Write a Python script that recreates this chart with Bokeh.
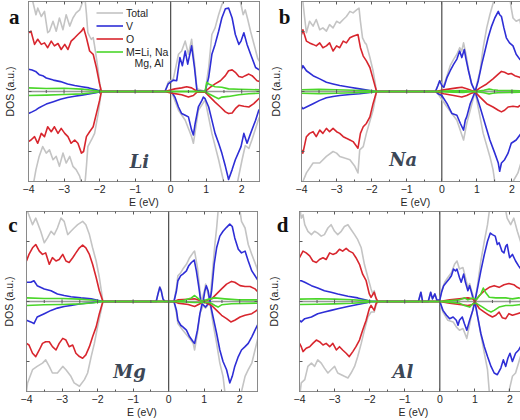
from bokeh.plotting import figure
from bokeh.layouts import column, row
from bokeh.models import (Range1d, FixedTicker, LinearAxis, Span, Label, Legend, LegendItem)
from bokeh.embed import file_html
from bokeh.resources import INLINE

# ---------------- axes / ticks ----------------
X_TICKS = [-4, -3, -2, -1, 0, 1, 2]
X_MINOR = [-3.5, -2.5, -1.5, -0.5, 0.5, 1.5, 2.5]
Y_TICKS = [-1, 0, 1]
X_RANGE = (-4, 2.5)
Y_RANGE = (-1.5, 1.5)

SPECIES = ["Total", "V", "O", "M=Li, Na"]
LEGEND_SECOND_LINE = "Mg, Al"
METALS = ["Li", "Na", "Mg", "Al"]
LETTERS = ["a", "b", "c", "d"]

# ---------------- panel a (Li) ----------------
A_TOT_UP_X = [-4.0, -3.88, -3.79, -3.74, -3.64, -3.55, -3.46, -3.41, -3.31, -3.22, -3.13, -3.03, -2.94, -2.84, -2.75, -2.66, -2.56, -2.47, -2.42, -2.37, -2.33, -2.28, -2.23, -2.18, -2.14, -2.09, -2.04, -2.0, -1.95,
              -0.16, -0.07, 0.075, 0.22, 0.31, 0.41, 0.5, 0.59, 0.67, 0.74, 0.97, 1.07, 1.16, 1.25, 1.35, 1.44, 1.49, 1.6, 1.85, 1.92, 1.98, 2.04, 2.10, 2.17, 2.25, 2.34, 2.45, 2.56]
A_TOT_UP_Y = [1.6, 1.5, 1.28, 1.39, 1.25, 1.335, 0.98, 1.005, 1.17, 1.005, 1.225, 1.03, 1.28, 1.09, 1.225, 1.31, 1.36, 1.5, 1.6, 1.3, 0.98, 0.92, 0.87, 0.9, 0.76, 0.56, 0.35, 0.15, 0,
              0, 0.154, 0.21, 0.62, 0.675, 0.84, 0.62, 0.87, 0.48, 0.044, 0, 0.40, 0.95, 1.06, 1.28, 1.445, 1.5, 1.6, 1.6, 1.6, 1.45, 1.28, 1.36, 1.2, 1.0, 0.8, 0.55, 0.45]
A_TOT_DN_X = [-4.0, -3.88, -3.79, -3.70, -3.60, -3.50, -3.41, -3.31, -3.22, -3.13, -3.03, -2.94, -2.84, -2.75, -2.66, -2.56, -2.47, -2.42, -2.37, -2.33, -2.23, -2.14, -2.04, -1.95,
              -0.16, 0.03, 0.22, 0.41, 0.59, 0.64, 0.78, 0.97, 1.16, 1.35, 1.49, 1.6, 1.85, 2.01, 2.10, 2.20, 2.29, 2.48, 2.56]
A_TOT_DN_Y = [-1.6, -1.6, -1.302, -1.082, -0.918, -1.027, -0.973, -1.137, -1.082, -1.247, -1.027, -1.192, -1.082, -1.247, -1.302, -1.412, -1.6, -1.6, -1.247, -0.918, -0.808, -0.698, -0.368, 0,
              0, -0.01, -0.313, -0.478, -0.753, -0.863, -0.313, -0.14, -0.698, -1.137, -1.5, -1.6, -1.6, -1.137, -0.9, -0.95, -0.8, -0.45, -0.38]
A_V_UP_X = [-4.0, -3.9, -3.8, -3.7, -3.6, -3.5, -3.3, -3.1, -2.9, -2.7, -2.5, -2.3, -2.1, -1.95,
            -0.16, -0.07, 0.075, 0.17, 0.26, 0.33, 0.41, 0.48, 0.59, 0.67, 0.74, 0.97, 1.07, 1.16, 1.25, 1.35, 1.44, 1.54, 1.63, 1.73, 1.82, 1.92, 1.98, 2.06, 2.15, 2.25, 2.39, 2.53]
A_V_UP_Y = [0.37, 0.357, 0.335, 0.28, 0.264, 0.225, 0.19, 0.165, 0.126, 0.10, 0.08, 0.06, 0.027, 0,
            0, 0.126, 0.19, 0.18, 0.565, 0.43, 0.675, 0.456, 0.76, 0.40, 0.016, 0, 0.236, 0.62, 0.785, 1.005, 1.225, 1.38, 1.39, 1.225, 0.95, 0.785, 0.84, 0.98, 0.785, 0.62, 0.40, 0.346]
A_V_DN_X = [-4.0, -3.9, -3.8, -3.7, -3.6, -3.5, -3.3, -3.1, -2.9, -2.7, -2.5, -2.3, -2.1, -1.95,
            -0.16, 0.03, 0.12, 0.22, 0.31, 0.41, 0.5, 0.59, 0.64, 0.69, 0.78, 0.88, 0.92, 0.97, 1.07, 1.16, 1.25, 1.35, 1.44, 1.54, 1.63, 1.73, 1.82, 1.98, 2.06, 2.15, 2.25, 2.39, 2.48, 2.56]
A_V_DN_Y = [-0.368, -0.34, -0.31, -0.27, -0.24, -0.21, -0.17, -0.13, -0.10, -0.08, -0.06, -0.04, -0.02, 0,
            0, -0.01, -0.093, -0.258, -0.368, -0.396, -0.423, -0.643, -0.725, -0.533, -0.258, -0.148, -0.093, -0.12, -0.258, -0.478, -0.698, -0.863, -1.027, -1.247, -1.467, -1.302, -1.137, -0.918, -0.698, -0.863, -0.698, -0.478, -0.313, -0.258]
A_O_UP_X = [-4.0, -3.93, -3.83, -3.74, -3.64, -3.55, -3.46, -3.36, -3.27, -3.17, -3.08, -2.98, -2.89, -2.80, -2.70, -2.61, -2.51, -2.45, -2.37, -2.28, -2.18, -2.09, -2.0, -1.95,
            -0.16, 0.12, 0.31, 0.45, 0.59, 0.74, 0.97, 1.11, 1.25, 1.40, 1.54, 1.63, 1.73, 1.82, 1.92, 2.01, 2.10, 2.20, 2.29, 2.43, 2.56]
A_O_UP_Y = [0.98, 1.005, 0.785, 0.87, 0.785, 0.81, 0.73, 0.84, 0.76, 0.80, 0.70, 0.785, 0.70, 0.84, 0.895, 0.95, 1.005, 1.06, 0.895, 0.675, 0.62, 0.40, 0.126, 0,
            0, 0.044, 0.06, 0.08, 0.06, 0.005, 0, 0.07, 0.126, 0.18, 0.264, 0.346, 0.36, 0.32, 0.25, 0.236, 0.264, 0.29, 0.264, 0.18, 0.154]
A_O_DN_X = [-4.0, -3.93, -3.83, -3.74, -3.64, -3.55, -3.46, -3.36, -3.27, -3.17, -3.08, -2.98, -2.89, -2.80, -2.70, -2.61, -2.51, -2.45, -2.37, -2.28, -2.18, -2.09, -2.0, -1.95,
            -0.16, 0.03, 0.31, 0.5, 0.64, 0.74, 0.97, 1.11, 1.25, 1.40, 1.54, 1.63, 1.73, 1.82, 1.92, 2.06, 2.20, 2.34, 2.48, 2.56]
A_O_DN_Y = [-0.835, -0.808, -0.753, -0.863, -0.698, -0.753, -0.588, -0.67, -0.588, -0.698, -0.615, -0.698, -0.753, -0.863, -0.808, -0.863, -1.027, -1.0, -0.753, -0.67, -0.588, -0.368, -0.148, 0,
            0, -0.027, -0.055, -0.093, -0.066, -0.01, -0.01, -0.093, -0.176, -0.258, -0.34, -0.368, -0.357, -0.286, -0.23, -0.247, -0.258, -0.203, -0.12, -0.093]
A_M_UP_X = [-4.0, -3.5, -3.0, -2.5, -2.2, -1.95, 0.97, 1.02, 1.07, 1.25, 1.44, 1.63, 1.92, 2.20, 2.56]
A_M_UP_Y = [0.06, 0.05, 0.055, 0.04, 0.02, 0, 0, 0.154, 0.126, 0.08, 0.07, 0.044, 0.038, 0.033, 0.027]
A_M_DN_X = [-4.0, -3.5, -3.0, -2.5, -2.2, -1.95, 0.97, 1.07, 1.25, 1.35, 1.44, 1.63, 1.92, 2.20, 2.56]
A_M_DN_Y = [-0.066, -0.06, -0.05, -0.04, -0.02, 0, 0, -0.038, -0.093, -0.12, -0.093, -0.082, -0.055, -0.038, -0.027]

# ---------------- panel b (Na) ----------------
B_TOT_UP_X = [-4.0, -3.96, -3.91, -3.86, -3.77, -3.67, -3.58, -3.48, -3.39, -3.29, -3.20, -3.10, -3.0, -2.91, -2.81, -2.72, -2.62, -2.53, -2.43, -2.36, -2.32, -2.26, -2.19, -2.15, -2.05, -1.96, -1.86,
              -0.18, -0.06, 0.06, 0.24, 0.34, 0.43, 0.51, 0.57, 0.62, 0.69, 0.76, 0.85, 0.95, 1.09, 1.18, 1.28, 1.37, 1.45, 1.48, 1.6, 1.93, 1.98, 2.03, 2.12, 2.22, 2.26, 2.31, 2.40, 2.5]
B_TOT_UP_Y = [1.6, 1.5, 1.225, 0.98, 1.17, 1.09, 1.2, 1.03, 1.06, 1.005, 1.115, 1.06, 1.17, 1.14, 1.2, 1.25, 1.335, 1.31, 1.36, 1.39, 1.17, 0.895, 0.81, 0.785, 0.566, 0.346, 0,
              0, 0.18, 0.10, 0.43, 0.54, 0.62, 0.73, 0.675, 0.81, 0.62, 0.37, 0.126, 0, 0.346, 0.73, 1.06, 1.28, 1.445, 1.5, 1.6, 1.6, 1.39, 1.225, 1.17, 1.2, 1.1, 0.8, 0.7, 0.45]
B_TOT_DN_X = [-4.0, -3.96, -3.86, -3.67, -3.48, -3.29, -3.10, -3.0, -2.91, -2.77, -2.62, -2.48, -2.39, -2.34, -2.24, -2.15, -1.96, -1.86,
              -0.18, -0.11, 0.15, 0.43, 0.62, 0.71, 0.95, 1.18, 1.37, 1.46, 1.51, 1.6, 1.98, 2.03, 2.17, 2.31, 2.5]
B_TOT_DN_Y = [-1.6, -1.5, -1.357, -1.192, -1.192, -1.082, -1.0, -1.027, -1.082, -1.11, -1.137, -1.247, -1.357, -0.973, -0.918, -0.698, -0.313, 0,
              0, -0.038, -0.258, -0.478, -0.808, -0.533, 0, -0.698, -1.082, -1.302, -1.5, -1.6, -1.6, -1.5, -1.357, -1.082, -0.973]
B_V_UP_X = [-4.0, -3.96, -3.86, -3.67, -3.48, -3.29, -3.10, -2.91, -2.62, -2.34, -2.05, -1.86,
            -0.18, -0.11, -0.06, 0, 0.06, 0.15, 0.24, 0.34, 0.43, 0.51, 0.57, 0.64, 0.69, 0.76, 0.85, 0.95, 1.04, 1.14, 1.23, 1.32, 1.42, 1.51, 1.61, 1.65, 1.70, 1.77, 1.84, 1.93, 2.03, 2.12, 2.22, 2.36, 2.5]
B_V_UP_Y = [0.37, 0.43, 0.346, 0.264, 0.21, 0.154, 0.126, 0.10, 0.07, 0.044, 0.016, 0,
            0, 0.10, 0.18, 0.10, 0.07, 0.236, 0.346, 0.456, 0.54, 0.675, 0.565, 0.70, 0.54, 0.346, 0.126, 0, 0.18, 0.456, 0.675, 0.895, 1.09, 1.225, 1.335, 1.28, 1.25, 1.06, 0.895, 0.81, 0.76, 0.62, 0.54, 0.456, 0.346]
B_V_DN_X = [-4.0, -3.96, -3.86, -3.67, -3.48, -3.29, -3.10, -2.91, -2.62, -2.34, -2.05, -1.86,
            -0.18, -0.11, 0, 0.15, 0.29, 0.43, 0.53, 0.62, 0.67, 0.71, 0.81, 0.95, 1.09, 1.23, 1.37, 1.51, 1.61, 1.65, 1.70, 1.79, 1.89, 1.98, 2.12, 2.26, 2.40, 2.5]
B_V_DN_Y = [-0.258, -0.286, -0.258, -0.203, -0.148, -0.104, -0.082, -0.066, -0.05, -0.038, -0.016, 0,
            0, -0.038, -0.066, -0.203, -0.368, -0.396, -0.533, -0.643, -0.478, -0.423, -0.203, 0, -0.258, -0.533, -0.808, -1.027, -1.192, -1.33, -1.192, -1.137, -1.027, -0.863, -0.808, -0.698, -0.533, -0.368]
B_O_UP_X = [-4.0, -3.96, -3.86, -3.77, -3.67, -3.58, -3.48, -3.39, -3.29, -3.20, -3.10, -3.0, -2.91, -2.81, -2.72, -2.62, -2.53, -2.39, -2.32, -2.24, -2.15, -2.05, -1.96, -1.86,
            -0.18, 0.06, 0.24, 0.43, 0.57, 0.71, 0.85, 0.95, 1.09, 1.28, 1.46, 1.61, 1.70, 1.79, 1.89, 1.98, 2.08, 2.22, 2.36, 2.5]
B_O_UP_Y = [0.95, 1.03, 0.84, 0.81, 0.785, 0.76, 0.81, 0.73, 0.76, 0.81, 0.675, 0.76, 0.73, 0.84, 0.81, 0.895, 0.92, 0.95, 0.73, 0.59, 0.51, 0.40, 0.21, 0,
            0, 0.027, 0.044, 0.06, 0.07, 0.044, 0.016, 0, 0.06, 0.126, 0.21, 0.29, 0.335, 0.32, 0.29, 0.30, 0.264, 0.236, 0.18, 0.154]
B_O_DN_X = [-4.0, -3.96, -3.86, -3.77, -3.67, -3.58, -3.48, -3.39, -3.29, -3.20, -3.10, -3.0, -2.91, -2.81, -2.72, -2.62, -2.53, -2.39, -2.32, -2.24, -2.15, -2.05, -1.96, -1.86,
            -0.18, 0.06, 0.34, 0.57, 0.71, 0.85, 0.95, 1.09, 1.28, 1.46, 1.61, 1.70, 1.79, 1.89, 2.03, 2.17, 2.31, 2.45, 2.5]
B_O_DN_Y = [-0.973, -1.027, -0.753, -0.698, -0.67, -0.753, -0.643, -0.698, -0.615, -0.67, -0.615, -0.67, -0.698, -0.753, -0.78, -0.808, -0.835, -0.945, -0.698, -0.588, -0.533, -0.423, -0.203, 0,
            0, -0.038, -0.066, -0.093, -0.066, -0.027, -0.01, -0.093, -0.203, -0.258, -0.313, -0.34, -0.313, -0.258, -0.247, -0.258, -0.203, -0.176, -0.148]
B_M_UP_X = [-4.0, -3.5, -3.0, -2.5, -2.0, -1.86, -0.18, 0.3, 0.6, 0.95, 1.2, 1.35, 1.45, 1.6, 2.0, 2.5]
B_M_UP_Y = [0.03, 0.035, 0.03, 0.02, 0.01, 0, 0, 0.01, 0.015, 0, 0.02, 0.04, 0.03, 0.02, 0.015, 0.01]
B_M_DN_X = [-4.0, -3.5, -3.0, -2.5, -2.0, -1.86, -0.18, 0.3, 0.6, 0.95, 1.2, 1.35, 1.45, 1.6, 2.0, 2.5]
B_M_DN_Y = [-0.03, -0.035, -0.03, -0.02, -0.01, 0, 0, -0.01, -0.015, 0, -0.02, -0.04, -0.03, -0.02, -0.015, -0.01]

# ---------------- panel c (Mg) ----------------
C_TOT_UP_X = [-4.0, -3.97, -3.83, -3.74, -3.60, -3.50, -3.41, -3.31, -3.22, -3.13, -3.03, -2.94, -2.84, -2.75, -2.66, -2.56, -2.42, -2.33, -2.23, -2.14, -2.04, -1.95, -1.85,
              -0.35, -0.30, -0.25, -0.21, -0.16, -0.11, 0.15, 0.22, 0.26, 0.34, 0.40, 0.50, 0.59, 0.69, 0.73, 0.81, 0.88, 0.92, 1.02, 1.04, 1.16, 1.22, 1.30, 1.35, 1.39, 1.5, 1.95, 2.01, 2.05, 2.15, 2.24, 2.34, 2.48, 2.52]
C_TOT_UP_Y = [1.6, 1.5, 1.28, 1.39, 1.17, 0.98, 1.06, 1.17, 1.115, 1.225, 1.39, 1.335, 1.115, 1.17, 1.225, 1.28, 1.335, 1.28, 1.115, 0.895, 0.675, 0.40, 0,
              0, 0.126, 0.247, 0.19, 0.044, 0, 0, 0.236, 0.43, 0.48, 0.54, 0.62, 0.73, 0.815, 0.84, 0.565, 0.18, 0, 0.21, 0.29, 0, 0.40, 0.95, 1.225, 1.5, 1.6, 1.6, 1.5, 1.335, 1.225, 0.95, 0.785, 0.565, 0.456]
C_TOT_DN_X = [-4.0, -3.97, -3.83, -3.70, -3.55, -3.46, -3.36, -3.27, -3.13, -2.98, -2.89, -2.75, -2.66, -2.51, -2.37, -2.28, -2.18, -2.09, -2.0, -1.90, -1.85,
              0.15, 0.22, 0.26, 0.40, 0.55, 0.69, 0.73, 0.81, 0.88, 0.97, 1.04, 1.11, 1.16, 1.25, 1.35, 1.44, 1.53, 1.58, 1.7, 1.95, 2.05, 2.15, 2.24, 2.34, 2.43, 2.52]
C_TOT_DN_Y = [-1.5, -1.357, -1.137, -1.082, -1.027, -0.973, -1.082, -1.192, -1.192, -1.082, -1.137, -1.247, -1.357, -1.412, -1.302, -1.192, -0.918, -0.698, -0.423, -0.148, 0,
              0, -0.203, -0.368, -0.478, -0.588, -0.698, -0.808, -0.533, -0.203, -0.066, -0.11, -0.06, -0.02, -0.368, -0.698, -1.027, -1.247, -1.5, -1.6, -1.6, -1.5, -1.247, -1.137, -1.027, -0.808, -0.588]
C_V_UP_X = [-4.0, -3.88, -3.79, -3.70, -3.50, -3.31, -3.13, -2.94, -2.75, -2.47, -2.18, -1.85,
            -0.35, -0.30, -0.25, -0.21, -0.16, -0.11, 0.15, 0.22, 0.26, 0.34, 0.40, 0.50, 0.56, 0.64, 0.72, 0.78, 0.85, 0.90, 0.97, 1.02, 1.06, 1.11, 1.16, 1.21, 1.28, 1.35, 1.44, 1.53, 1.63, 1.72, 1.79, 1.86, 1.96, 2.05, 2.15, 2.24, 2.34, 2.43, 2.52]
C_V_UP_Y = [0.32, 0.32, 0.346, 0.264, 0.21, 0.18, 0.126, 0.10, 0.08, 0.06, 0.044, 0,
            0, 0.126, 0.236, 0.18, 0.044, 0, 0, 0.18, 0.346, 0.43, 0.456, 0.51, 0.59, 0.65, 0.69, 0.51, 0.236, 0.016, 0, 0.18, 0.264, 0.18, 0, 0.18, 0.62, 0.895, 1.09, 1.17, 1.236, 1.29, 1.25, 1.06, 0.87, 0.81, 0.84, 0.675, 0.51, 0.43, 0.346]
C_V_DN_X = [-4.0, -3.88, -3.79, -3.70, -3.50, -3.31, -3.13, -2.94, -2.75, -2.47, -2.18, -1.85,
            0.15, 0.22, 0.26, 0.34, 0.40, 0.50, 0.59, 0.69, 0.73, 0.81, 0.88, 0.94, 1.04, 1.11, 1.16, 1.25, 1.35, 1.44, 1.53, 1.63, 1.72, 1.79, 1.86, 1.96, 2.05, 2.15, 2.24, 2.34, 2.43, 2.52]
C_V_DN_Y = [-0.313, -0.34, -0.368, -0.258, -0.203, -0.148, -0.11, -0.082, -0.066, -0.038, -0.022, 0,
            0, -0.148, -0.313, -0.396, -0.423, -0.478, -0.588, -0.67, -0.698, -0.478, -0.203, -0.038, -0.093, -0.038, 0, -0.258, -0.533, -0.808, -1.0, -1.137, -1.357, -1.247, -1.082, -0.918, -0.808, -0.753, -0.698, -0.588, -0.478, -0.368]
C_O_UP_X = [-4.0, -3.93, -3.83, -3.74, -3.64, -3.55, -3.46, -3.36, -3.27, -3.17, -3.08, -2.98, -2.89, -2.80, -2.70, -2.61, -2.51, -2.42, -2.33, -2.23, -2.14, -2.04, -1.95, -1.85,
            0.15, 0.26, 0.55, 0.73, 0.88, 0.97, 1.21, 1.35, 1.49, 1.63, 1.77, 1.86, 2.01, 2.15, 2.29, 2.43, 2.52]
C_O_UP_Y = [0.675, 0.785, 0.895, 0.95, 0.84, 0.785, 0.81, 0.62, 0.73, 0.675, 0.70, 0.785, 0.675, 0.65, 0.73, 0.81, 0.895, 0.94, 0.895, 0.785, 0.62, 0.40, 0.18, 0,
            0, 0.027, 0.038, 0.044, 0.016, 0, 0.044, 0.126, 0.21, 0.29, 0.335, 0.32, 0.264, 0.25, 0.25, 0.21, 0.154]
C_O_DN_X = [-4.0, -3.93, -3.83, -3.74, -3.64, -3.55, -3.46, -3.36, -3.27, -3.17, -3.08, -2.98, -2.89, -2.80, -2.70, -2.61, -2.51, -2.42, -2.33, -2.23, -2.14, -2.04, -1.95, -1.85,
            0.15, 0.26, 0.55, 0.73, 0.88, 0.97, 1.21, 1.35, 1.49, 1.63, 1.75, 1.86, 2.01, 2.15, 2.34, 2.48, 2.52]
C_O_DN_Y = [-0.698, -0.725, -0.863, -0.918, -0.808, -0.698, -0.67, -0.67, -0.753, -0.808, -0.698, -0.615, -0.643, -0.753, -0.725, -0.863, -0.918, -0.945, -0.89, -0.753, -0.588, -0.423, -0.203, 0,
            0, -0.027, -0.05, -0.082, -0.038, 0, -0.066, -0.148, -0.23, -0.286, -0.34, -0.313, -0.258, -0.23, -0.203, -0.148, -0.12]
C_M_UP_X = [-4.0, -3.5, -3.0, -2.5, -2.1, -1.85, 0.15, 0.40, 0.64, 0.73, 0.81, 0.92, 1.06, 1.16, 1.30, 1.58, 1.96, 2.52]
C_M_UP_Y = [0.06, 0.05, 0.05, 0.04, 0.02, 0, 0, 0.016, 0.06, 0.10, 0.06, 0.005, 0.027, 0.044, 0.06, 0.044, 0.027, 0.027]
C_M_DN_X = [-4.0, -3.5, -3.0, -2.5, -2.1, -1.85, 0.15, 0.73, 1.16, 1.30, 1.39, 1.49, 1.77, 2.52]
C_M_DN_Y = [-0.066, -0.055, -0.05, -0.04, -0.02, 0, 0, -0.016, -0.016, -0.066, -0.093, -0.055, -0.038, -0.027]

# ---------------- panel d (Al) ----------------
D_TOT_UP_X = [-4.0, -3.95, -3.90, -3.85, -3.76, -3.66, -3.57, -3.48, -3.38, -3.29, -3.19, -3.10, -3.0, -2.91, -2.81, -2.72, -2.62, -2.53, -2.43, -2.34, -2.24, -2.15, -2.05, -1.96, -1.91, -1.87, -1.82, -1.77,
              -0.61, -0.54, -0.49, -0.33, -0.26, -0.21, -0.14, -0.08, 0, 0.05, 0.14, 0.23, 0.33, 0.42, 0.49, 0.56, 0.66, 0.73, 0.80, 0.85, 0.89, 1.0, 1.08, 1.17, 1.27, 1.36, 1.41, 1.5, 1.85, 1.92, 2.02, 2.11, 2.21, 2.30, 2.39, 2.49, 2.54]
D_TOT_UP_Y = [1.6, 1.39, 1.445, 1.28, 1.17, 1.115, 1.17, 1.14, 1.09, 1.115, 1.225, 1.28, 1.17, 1.115, 1.17, 1.25, 1.28, 1.2, 1.115, 1.03, 0.895, 0.62, 0.40, 0.21, 0.126, 0.18, 0.044, 0,
              0, 0.154, 0, 0, 0.154, 0.044, 0.126, 0.016, 0.027, 0.18, 0.32, 0.40, 0.48, 0.62, 0.675, 0.54, 0.565, 0.40, 0.236, 0.30, 0.21, 0, 0.29, 0.675, 1.005, 1.28, 1.5, 1.6, 1.6, 1.39, 1.28, 1.39, 1.17, 1.005, 0.73, 0.65, 0.62]
D_TOT_DN_X = [-4.0, -3.95, -3.85, -3.76, -3.66, -3.57, -3.48, -3.38, -3.29, -3.19, -3.10, -3.0, -2.91, -2.81, -2.72, -2.62, -2.53, -2.43, -2.34, -2.24, -2.15, -2.05, -1.96, -1.87, -1.82, -1.77,
              0, 0.09, 0.23, 0.38, 0.47, 0.56, 0.66, 0.77, 0.85, 0.89, 1.0, 1.13, 1.27, 1.36, 1.41, 1.5, 1.88, 1.97, 2.07, 2.16, 2.30, 2.44, 2.54]
D_TOT_DN_Y = [-1.6, -1.357, -1.302, -1.082, -1.027, -1.082, -0.973, -1.027, -1.11, -1.192, -1.137, -1.082, -1.192, -1.22, -1.247, -1.275, -1.192, -1.082, -0.918, -0.698, -0.478, -0.258, -0.176, -0.176, -0.066, 0,
              0, -0.176, -0.313, -0.34, -0.423, -0.478, -0.45, -0.615, -0.38, -0.258, 0, -0.423, -0.863, -1.137, -1.5, -1.6, -1.6, -1.5, -1.247, -1.192, -0.918, -0.698, -0.588]
D_V_UP_X = [-4.0, -3.95, -3.85, -3.66, -3.48, -3.29, -3.10, -2.91, -2.62, -2.34, -2.05, -1.96,
            -0.61, -0.54, -0.49, -0.33, -0.26, -0.21, -0.14, -0.08, 0, 0.05, 0.11, 0.19, 0.26, 0.33, 0.39, 0.45, 0.49, 0.56, 0.61, 0.68, 0.73, 0.80, 0.85, 0.89, 0.94, 1.0, 1.08, 1.17, 1.27, 1.36, 1.44, 1.50, 1.58, 1.64, 1.69, 1.77, 1.83, 1.88, 1.92, 1.99, 2.07, 2.16, 2.25, 2.35, 2.44, 2.54]
D_V_UP_Y = [0.346, 0.346, 0.32, 0.264, 0.225, 0.18, 0.154, 0.126, 0.088, 0.06, 0.016, 0,
            0, 0.154, 0, 0, 0.154, 0.044, 0.126, 0.016, 0.027, 0.154, 0.264, 0.32, 0.37, 0.43, 0.54, 0.51, 0.54, 0.40, 0.32, 0.456, 0.32, 0.18, 0.264, 0.18, 0.07, 0, 0.236, 0.51, 0.785, 1.005, 1.14, 1.115, 1.09, 0.95, 0.98, 0.84, 0.81, 0.92, 0.95, 0.73, 0.785, 0.675, 0.59, 0.51, 0.456, 0.48]
D_V_DN_X = [-4.0, -3.95, -3.85, -3.66, -3.48, -3.29, -3.10, -2.91, -2.62, -2.34, -2.05, -1.96,
            0, 0.09, 0.19, 0.28, 0.38, 0.47, 0.52, 0.56, 0.64, 0.70, 0.77, 0.85, 0.94, 1.0, 1.08, 1.17, 1.27, 1.36, 1.46, 1.55, 1.64, 1.74, 1.81, 1.88, 1.94, 2.0, 2.07, 2.16, 2.25, 2.35, 2.42, 2.49, 2.54]
D_V_DN_Y = [-0.313, -0.34, -0.286, -0.258, -0.203, -0.176, -0.148, -0.12, -0.082, -0.05, -0.016, 0,
            0, -0.148, -0.23, -0.286, -0.258, -0.313, -0.396, -0.313, -0.258, -0.368, -0.478, -0.313, -0.148, 0, -0.258, -0.533, -0.753, -0.918, -1.082, -1.192, -1.22, -1.11, -0.973, -1.082, -0.945, -0.863, -1.0, -0.863, -0.808, -0.698, -0.533, -0.45, -0.423]
D_O_UP_X = [-4.0, -3.95, -3.90, -3.81, -3.71, -3.62, -3.52, -3.43, -3.33, -3.24, -3.14, -3.05, -2.95, -2.86, -2.77, -2.67, -2.58, -2.48, -2.39, -2.29, -2.20, -2.10, -2.01, -1.96, -1.87, -1.82, -1.77,
            0, 0.28, 0.56, 0.80, 0.94, 1.0, 1.13, 1.27, 1.41, 1.55, 1.69, 1.83, 1.97, 2.11, 2.21, 2.30, 2.44, 2.54]
D_O_UP_Y = [0.73, 0.785, 0.84, 0.81, 0.76, 0.675, 0.65, 0.70, 0.73, 0.70, 0.81, 0.785, 0.81, 0.87, 0.84, 0.885, 0.84, 0.81, 0.73, 0.62, 0.456, 0.346, 0.126, 0.07, 0.154, 0.06, 0,
            0, 0.027, 0.044, 0.06, 0.044, 0, 0.10, 0.18, 0.236, 0.264, 0.236, 0.28, 0.30, 0.28, 0.236, 0.21, 0.18, 0.21]
D_O_DN_X = [-4.0, -3.95, -3.90, -3.81, -3.71, -3.62, -3.52, -3.43, -3.33, -3.24, -3.14, -3.05, -2.95, -2.86, -2.77, -2.67, -2.58, -2.48, -2.39, -2.29, -2.20, -2.10, -2.01, -1.96, -1.87, -1.82, -1.77,
            0, 0.28, 0.56, 0.80, 0.94, 1.0, 1.13, 1.27, 1.41, 1.50, 1.60, 1.69, 1.78, 1.88, 1.97, 2.07, 2.21, 2.35, 2.54]
D_O_DN_Y = [-0.698, -0.753, -0.835, -0.78, -0.753, -0.698, -0.643, -0.67, -0.725, -0.698, -0.753, -0.698, -0.808, -0.753, -0.808, -0.863, -0.918, -0.835, -0.753, -0.643, -0.478, -0.313, -0.12, -0.066, -0.148, -0.038, 0,
            0, -0.027, -0.05, -0.066, -0.05, 0, -0.12, -0.176, -0.23, -0.258, -0.23, -0.176, -0.27, -0.286, -0.203, -0.23, -0.203, -0.176, -0.148]
D_M_UP_X = [-4.0, -3.5, -3.0, -2.5, -2.1, -1.9, 0, 0.56, 0.70, 0.80, 0.94, 1.03, 1.17, 1.24, 1.30, 1.41, 1.60, 1.88, 2.07, 2.25, 2.54]
D_M_UP_Y = [0.04, 0.045, 0.04, 0.03, 0.015, 0, 0, 0.027, 0.06, 0.027, 0.06, 0.027, 0.126, 0.225, 0.154, 0.07, 0.06, 0.06, 0.044, 0.06, 0.044]
D_M_DN_X = [-4.0, -3.5, -3.0, -2.5, -2.1, -1.9, 0, 0.56, 0.70, 0.85, 0.94, 1.03, 1.22, 1.36, 1.46, 1.55, 1.69, 1.88, 2.07, 2.25, 2.54]
D_M_DN_Y = [-0.05, -0.045, -0.04, -0.03, -0.015, 0, 0, -0.027, -0.066, -0.093, -0.038, -0.027, -0.093, -0.148, -0.176, -0.148, -0.093, -0.066, -0.066, -0.055, -0.038]

# ---------------- styling ----------------
COLORS = ["#c4c4c4", "#2e2ed6", "#d8262e", "#4bd62a"]   # Total, V, O, M
FRAME = "#8a8a8a"
TICK = "#5a5a5a"
TXT = "#262626"
SANS = "Liberation Sans"
FS = "10.5px"
FRAME_H = 180
LEG_ROW = 13

PANEL_DATA = {
    "a": [(A_TOT_UP_X, A_TOT_UP_Y, A_TOT_DN_X, A_TOT_DN_Y), (A_V_UP_X, A_V_UP_Y, A_V_DN_X, A_V_DN_Y),
          (A_O_UP_X, A_O_UP_Y, A_O_DN_X, A_O_DN_Y), (A_M_UP_X, A_M_UP_Y, A_M_DN_X, A_M_DN_Y)],
    "b": [(B_TOT_UP_X, B_TOT_UP_Y, B_TOT_DN_X, B_TOT_DN_Y), (B_V_UP_X, B_V_UP_Y, B_V_DN_X, B_V_DN_Y),
          (B_O_UP_X, B_O_UP_Y, B_O_DN_X, B_O_DN_Y), (B_M_UP_X, B_M_UP_Y, B_M_DN_X, B_M_DN_Y)],
    "c": [(C_TOT_UP_X, C_TOT_UP_Y, C_TOT_DN_X, C_TOT_DN_Y), (C_V_UP_X, C_V_UP_Y, C_V_DN_X, C_V_DN_Y),
          (C_O_UP_X, C_O_UP_Y, C_O_DN_X, C_O_DN_Y), (C_M_UP_X, C_M_UP_Y, C_M_DN_X, C_M_DN_Y)],
    "d": [(D_TOT_UP_X, D_TOT_UP_Y, D_TOT_DN_X, D_TOT_DN_Y), (D_V_UP_X, D_V_UP_Y, D_V_DN_X, D_V_DN_Y),
          (D_O_UP_X, D_O_UP_Y, D_O_DN_X, D_O_DN_Y), (D_M_UP_X, D_M_UP_Y, D_M_DN_X, D_M_DN_Y)],
}
# label positions (data units)
METAL_POS = {"a": (-0.88, -1.17), "b": (-1.1, -1.14), "c": (-1.1, -1.17), "d": (-1.05, -1.17)}
LETTER_Y = {"a": 1.235, "b": 1.25, "c": 1.27, "d": 1.27}


def style_axis(ax, ticks, minor, labels):
    ax.ticker = FixedTicker(ticks=ticks, minor_ticks=minor)
    ax.axis_line_color = FRAME
    ax.major_tick_line_color = TICK
    ax.major_tick_in = 3
    ax.major_tick_out = 0
    ax.minor_tick_in = 2
    ax.minor_tick_out = 0
    ax.minor_tick_line_color = TICK if minor else None
    if labels:
        ax.major_label_text_font = SANS
        ax.major_label_text_font_size = FS
        ax.major_label_text_color = TXT
        ax.major_label_standoff = 3
    else:
        ax.major_label_overrides = {t: "" for t in ticks}
        ax.major_label_text_font_size = "0px"
        ax.major_label_text_color = None
        ax.major_label_standoff = 0


def make_panel(key, metal, frame_w, lb, rb, letter_standoff, dos_standoff, legend=False):
    p = figure(frame_width=frame_w, frame_height=FRAME_H,
               x_range=Range1d(*X_RANGE), y_range=Range1d(*Y_RANGE),
               output_backend="svg", toolbar_location=None,
               min_border_left=lb, min_border_right=rb, min_border_top=1, min_border_bottom=29)
    p.grid.visible = False
    p.outline_line_color = FRAME
    p.border_fill_color = "white"

    xa = p.xaxis[0]
    style_axis(xa, X_TICKS, X_MINOR, True)
    xa.axis_label = "E (eV)"
    xa.axis_label_text_font = SANS
    xa.axis_label_text_font_size = FS
    xa.axis_label_text_font_style = "normal"
    xa.axis_label_text_color = TXT
    xa.axis_label_standoff = 0

    # left axis: y ticks drawn as minor ticks, panel letter as the only (unmarked) major tick label
    ya = p.yaxis[0]
    ly = LETTER_Y[key]
    ya.ticker = FixedTicker(ticks=[ly], minor_ticks=Y_TICKS)
    ya.axis_line_color = FRAME
    ya.major_tick_line_color = None
    ya.major_tick_in = 0
    ya.major_tick_out = 0
    ya.minor_tick_line_color = TICK
    ya.minor_tick_in = 3
    ya.minor_tick_out = 0
    ya.major_label_overrides = {ly: key}
    ya.major_label_text_font = "Liberation Serif"
    ya.major_label_text_font_style = "bold"
    ya.major_label_text_font_size = "21px"
    ya.major_label_text_color = "#111111"
    ya.major_label_standoff = letter_standoff
    ya.axis_label = "DOS (a.u.)"
    ya.axis_label_text_font = SANS
    ya.axis_label_text_font_size = FS
    ya.axis_label_text_font_style = "normal"
    ya.axis_label_text_color = TXT
    ya.axis_label_standoff = dos_standoff

    top = LinearAxis()
    style_axis(top, X_TICKS, X_MINOR, False)
    p.add_layout(top, "above")
    right = LinearAxis()
    style_axis(right, Y_TICKS, [], False)
    p.add_layout(right, "right")

    p.add_layout(Span(location=0, dimension="width", line_color="#9a9a9a", line_width=1.5, level="underlay"))
    p.add_layout(Span(location=0, dimension="height", line_color="#4a4a4a", line_width=1.2, level="underlay"))

    ups = []
    for (ux, uy, dx, dy), col in zip(PANEL_DATA[key], COLORS):
        r = p.line(ux, uy, line_color=col, line_width=1.6, line_join="round")
        p.line(dx, dy, line_color=col, line_width=1.6, line_join="round")
        ups.append(r)

    # small tick marks along the zero line
    p.segment(x0=X_TICKS, y0=[-0.035] * len(X_TICKS), x1=X_TICKS, y1=[0.035] * len(X_TICKS),
              line_color=TICK, line_width=1)
    p.segment(x0=X_MINOR, y0=[-0.025] * len(X_MINOR), x1=X_MINOR, y1=[0.025] * len(X_MINOR),
              line_color=TICK, line_width=1)

    mx, my = METAL_POS[key]
    p.add_layout(Label(x=mx, y=my, text=metal, text_font="DejaVu Serif", text_font_style="bold italic",
                       text_font_size="18px", text_color="#3c4756", text_align="center",
                       text_baseline="middle"))

    if legend:
        items = [LegendItem(label=s, renderers=[r]) for s, r in zip(SPECIES, ups)]
        leg_h = LEG_ROW * len(items)
        leg = Legend(items=items, location=(68, FRAME_H - 5 - leg_h), orientation="vertical",
                     padding=0, margin=0, spacing=0, label_height=LEG_ROW, glyph_height=LEG_ROW,
                     glyph_width=27, label_standoff=3,
                     label_text_font=SANS, label_text_font_size=FS, label_text_color=TXT,
                     background_fill_alpha=0, border_line_color=None)
        p.add_layout(leg)
        p.add_layout(Label(x=-1.02, y=0.47, text=LEGEND_SECOND_LINE, text_font=SANS, text_font_size=FS,
                           text_color=TXT, text_align="left", text_baseline="middle"))
    return p


# panel widths: a/c -> 22 + 231 + 7 = 260 ; b/d -> 28 + 228 + 4 = 260 ; heights 1 + 180 + 29 = 210
pa = make_panel("a", METALS[0], 231, 22, 7, 9, -10, legend=True)
pb = make_panel("b", METALS[1], 228, 28, 4, 11, -6)
pc = make_panel("c", METALS[2], 231, 22, 7, 9, -10)
pd = make_panel("d", METALS[3], 228, 28, 4, 11, -6)

layout = column(row(pa, pb), row(pc, pd))
open("out.html", "w").write(file_html(layout, INLINE))
